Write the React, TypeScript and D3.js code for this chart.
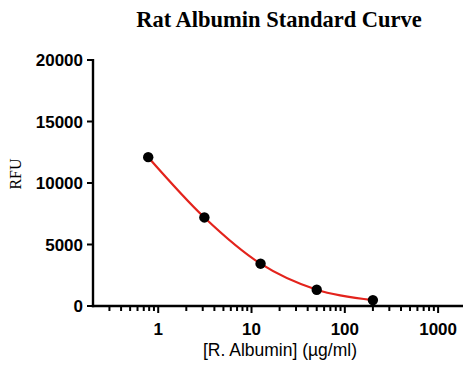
import * as d3 from "d3";
import { useEffect, useRef } from "react";

const title = "Rat Albumin Standard Curve";
const xLabel = "[R. Albumin] (\u00b5g/ml)";
const yLabel = "RFU";

const concentrations = [0.78125, 3.125, 12.5, 50, 200];
const rfu = [12100, 7200, 3440, 1320, 480];

const xMajorTicks = [1, 10, 100, 1000];
const yTicks = [0, 5000, 10000, 15000, 20000];

export default function App() {
    const svgRef = useRef<SVGSVGElement>(null);

    useEffect(() => {
        const svg = d3.select(svgRef.current);
        svg.selectAll("*").remove();

        const width = 465;
        const height = 365;
        const margin = { top: 60, right: 2, bottom: 59, left: 93 };

        const x = d3.scaleLog()
            .domain([0.2, 2000])
            .range([margin.left, margin.left + 4 * 93.3]);

        const y = d3.scaleLinear()
            .domain([0, 20000])
            .range([height - margin.bottom, margin.top]);

        const y0 = y(0);
        const xEnd = width - margin.right;

        // title
        svg.append("text")
            .attr("x", 279)
            .attr("y", 27)
            .attr("text-anchor", "middle")
            .style("font-family", "'Liberation Serif', 'Times New Roman', serif")
            .style("font-weight", "bold")
            .style("font-size", "22.5px")
            .text(title);

        // y axis
        const yAxis = svg.append("g").attr("transform", `translate(${margin.left},0)`);
        yAxis.append("line")
            .attr("x1", 0).attr("x2", 0)
            .attr("y1", y(20000) - 1).attr("y2", y0 + 1.2)
            .attr("stroke", "#000").attr("stroke-width", 2.4);
        yTicks.forEach(t => {
            yAxis.append("line")
                .attr("x1", -6).attr("x2", 0)
                .attr("y1", y(t)).attr("y2", y(t))
                .attr("stroke", "#000").attr("stroke-width", 2);
            yAxis.append("text")
                .attr("x", -10)
                .attr("y", y(t))
                .attr("dy", "0.36em")
                .attr("text-anchor", "end")
                .style("font-family", "'Liberation Sans', Arial, sans-serif")
                .style("font-weight", "bold")
                .style("font-size", "17px")
                .text(String(t));
        });

        // x axis
        const xAxis = svg.append("g");
        xAxis.append("line")
            .attr("x1", margin.left - 1.2).attr("x2", xEnd)
            .attr("y1", y0).attr("y2", y0)
            .attr("stroke", "#000").attr("stroke-width", 2.4);

        const minorTicks: number[] = [];
        [0.1, 1, 10, 100].forEach(base => {
            for (let m = 2; m <= 9; m++) {
                const v = base * m;
                if (v > 0.25) minorTicks.push(v);
            }
        });
        minorTicks.forEach(t => {
            xAxis.append("line")
                .attr("x1", x(t)).attr("x2", x(t))
                .attr("y1", y0).attr("y2", y0 + 5)
                .attr("stroke", "#000").attr("stroke-width", 2);
        });
        xMajorTicks.forEach(t => {
            xAxis.append("line")
                .attr("x1", x(t)).attr("x2", x(t))
                .attr("y1", y0).attr("y2", y0 + 7)
                .attr("stroke", "#000").attr("stroke-width", 2);
            xAxis.append("text")
                .attr("x", x(t))
                .attr("y", 335)
                .attr("text-anchor", "middle")
                .style("font-family", "'Liberation Sans', Arial, sans-serif")
                .style("font-weight", "bold")
                .style("font-size", "17px")
                .text(String(t));
        });

        // axis labels
        svg.append("text")
            .attr("x", 280)
            .attr("y", 356)
            .attr("text-anchor", "middle")
            .style("font-family", "'Liberation Sans', Arial, sans-serif")
            .style("font-size", "17.5px")
            .text(xLabel);

        svg.append("text")
            .attr("transform", `translate(21,${174}) rotate(-90)`)
            .attr("text-anchor", "middle")
            .style("font-family", "'Liberation Serif', 'Times New Roman', serif")
            .style("font-size", "16px")
            .text(yLabel);

        // fitted curve
        const points = concentrations.map((c, i) => [c, rfu[i]] as [number, number]);
        const line = d3.line<[number, number]>()
            .x(d => x(d[0]))
            .y(d => y(d[1]))
            .curve(d3.curveMonotoneX);

        svg.append("path")
            .datum(points)
            .attr("fill", "none")
            .attr("stroke", "#e3231c")
            .attr("stroke-width", 2.2)
            .attr("d", line);

        svg.selectAll(".dot")
            .data(points)
            .enter()
            .append("circle")
            .attr("cx", d => x(d[0]))
            .attr("cy", d => y(d[1]))
            .attr("r", 5.2)
            .attr("fill", "#000");
    }, []);

    return (
        <svg
            ref={svgRef}
            width={465}
            height={365}
            style={{ position: "absolute", left: 0, top: 0, background: "#fff" }}
        />
    );
}
